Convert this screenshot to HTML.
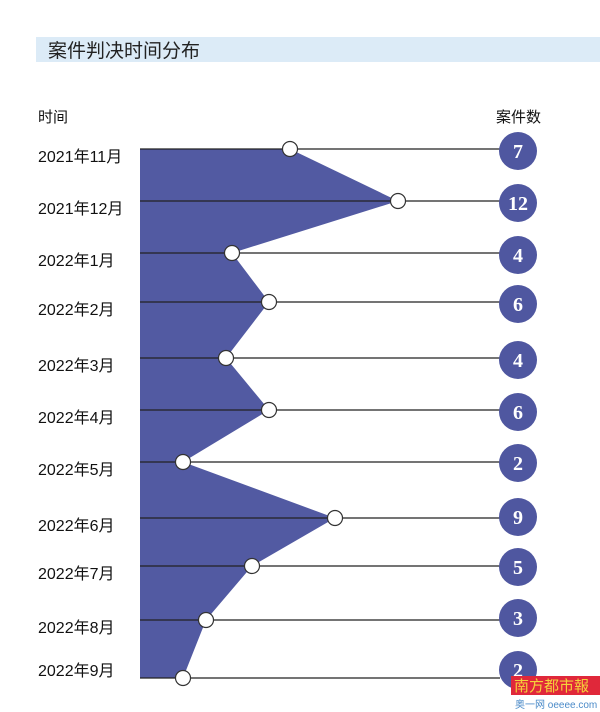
<!DOCTYPE html><html><head><meta charset="utf-8"><style>body{margin:0;background:#fff}svg{display:block}</style></head><body>
<svg width="600" height="712" xmlns="http://www.w3.org/2000/svg" font-family="Liberation Sans, Noto Sans CJK SC, sans-serif">
<rect x="36" y="37" width="564" height="25" fill="#dcebf7"/>
<text x="48" y="57" font-size="19" fill="#222">案件判决时间分布</text>
<text x="38" y="122" font-size="15" fill="#111">时间</text>
<text x="496" y="122" font-size="15" fill="#111">案件数</text>
<polygon points="140,149 290,149 398,201 232,253 269,302 226,358 269,410 183,462 335,518 252,566 206,620 183,678 140,678" fill="#525aa2"/>
<g stroke="#222" stroke-width="1.3">
<line x1="140" y1="149" x2="500" y2="149"/><line x1="140" y1="201" x2="500" y2="201"/><line x1="140" y1="253" x2="500" y2="253"/><line x1="140" y1="302" x2="500" y2="302"/><line x1="140" y1="358" x2="500" y2="358"/><line x1="140" y1="410" x2="500" y2="410"/><line x1="140" y1="462" x2="500" y2="462"/><line x1="140" y1="518" x2="500" y2="518"/><line x1="140" y1="566" x2="500" y2="566"/><line x1="140" y1="620" x2="500" y2="620"/><line x1="140" y1="678" x2="500" y2="678"/>
</g>
<g fill="#fff" stroke="#333" stroke-width="1.2">
<circle cx="290" cy="149" r="7.5"/><circle cx="398" cy="201" r="7.5"/><circle cx="232" cy="253" r="7.5"/><circle cx="269" cy="302" r="7.5"/><circle cx="226" cy="358" r="7.5"/><circle cx="269" cy="410" r="7.5"/><circle cx="183" cy="462" r="7.5"/><circle cx="335" cy="518" r="7.5"/><circle cx="252" cy="566" r="7.5"/><circle cx="206" cy="620" r="7.5"/><circle cx="183" cy="678" r="7.5"/>
</g>
<g font-size="16" fill="#111">
<text x="38" y="162">2021年11月</text><text x="38" y="214">2021年12月</text><text x="38" y="266">2022年1月</text><text x="38" y="315">2022年2月</text><text x="38" y="371">2022年3月</text><text x="38" y="423">2022年4月</text><text x="38" y="475">2022年5月</text><text x="38" y="531">2022年6月</text><text x="38" y="579">2022年7月</text><text x="38" y="633">2022年8月</text><text x="38" y="676">2022年9月</text>
</g>
<g fill="#4f57a0">
<circle cx="518" cy="151" r="19"/><circle cx="518" cy="203" r="19"/><circle cx="518" cy="255" r="19"/><circle cx="518" cy="304" r="19"/><circle cx="518" cy="360" r="19"/><circle cx="518" cy="412" r="19"/><circle cx="518" cy="463" r="19"/><circle cx="518" cy="517" r="19"/><circle cx="518" cy="567" r="19"/><circle cx="518" cy="618" r="19"/><circle cx="518" cy="670" r="19"/>
</g>
<g font-family="Liberation Serif, serif" font-weight="bold" font-size="20" fill="#fff" text-anchor="middle">
<text x="518" y="158">7</text><text x="518" y="210">12</text><text x="518" y="262">4</text><text x="518" y="311">6</text><text x="518" y="367">4</text><text x="518" y="419">6</text><text x="518" y="470">2</text><text x="518" y="524">9</text><text x="518" y="574">5</text><text x="518" y="625">3</text><text x="518" y="677">2</text>
</g>
<rect x="511" y="676" width="89" height="19" fill="#e0283a"/>
<text x="514" y="691" font-size="15" fill="#f4d23a">南方都市報</text>
<text x="515" y="708" font-size="10" fill="#4a8ac8">奥一网 oeeee.com</text>
</svg></body></html>
